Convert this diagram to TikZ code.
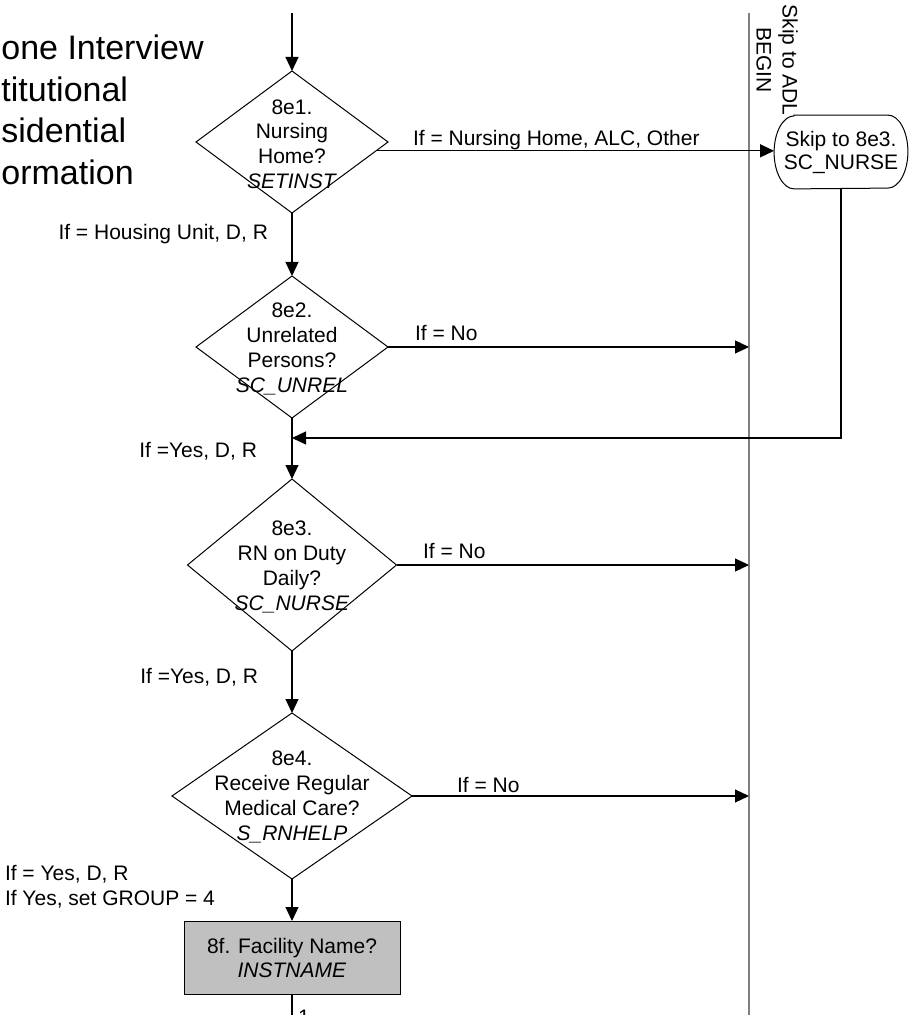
\documentclass[tikz,border=0pt]{standalone}
\usepackage{fontspec}
\setmainfont{Liberation Sans}
\usetikzlibrary{shapes.geometric,arrows.meta,calc}
\definecolor{boxgray}{RGB}{192,192,192}
\definecolor{lanegray}{RGB}{128,128,128}
\begin{document}
\begin{tikzpicture}[x=0.5pt,y=-0.5pt,
  txt/.style={font=\fontsize{10.5}{12.3}\selectfont, inner sep=0pt, outer sep=0pt},
  ttl/.style={font=\fontsize{17}{20}\selectfont, inner sep=0pt, anchor=base west},
  dia/.style={diamond, draw=black, line width=0.5pt, inner sep=0pt, outer sep=0pt},
  conn/.style={draw=black, line width=0.55pt},
  arr/.style={conn, -{Triangle[length=7pt,width=6.5pt]}},
  lane/.style={draw=lanegray, line width=1pt}
]
\useasboundingbox (0,0) rectangle (910,1015);
\clip (0,0) rectangle (910,1015);

% title (cut off at the left edge)
\node[ttl] (t1) at (1,60) {one Interview};
\node[ttl] (t2) at (1,102) {titutional};
\node[ttl] (t3) at (1,143) {sidential};
\node[ttl] (t4) at (1,185) {ormation};

% coordinates
\coordinate (start) at (292,13);
\coordinate (laneTop) at (749,13);
\coordinate (laneBot) at (749,1030);
\coordinate (merge) at (292,438);
\coordinate (finish) at (292,1030);

% lane
\draw[lane] (laneTop) -- (laneBot);
\node[txt, rotate=-90, align=center, font=\fontsize{10.5}{13}\selectfont] (laneLbl) at (777,60) {Skip to ADL\\BEGIN};

% diamonds
\node[dia, minimum width=96pt, minimum height=71pt] (d1) at (292,142) {};
\node[txt, align=center] (d1t) at (292,144) {8e1.\\Nursing\\Home?\\\textit{SETINST}};

\node[dia, minimum width=96pt, minimum height=71pt] (d2) at (292,347) {};
\node[txt, align=center, font=\fontsize{10.5}{12.6}\selectfont] (d2t) at (292,349) {8e2.\\Unrelated\\Persons?\\\textit{SC\_UNREL}};

\node[dia, minimum width=104.5pt, minimum height=86pt] (d3) at (292,565) {};
\node[txt, align=center, font=\fontsize{10.5}{12.6}\selectfont] (d3t) at (292,567) {8e3.\\RN on Duty\\Daily?\\\textit{SC\_NURSE}};

\node[dia, minimum width=120pt, minimum height=83pt] (d4) at (292,796) {};
\node[txt, align=center, font=\fontsize{10.5}{12.6}\selectfont] (d4t) at (292,797) {8e4.\\Receive Regular\\Medical Care?\\\textit{S\_RNHELP}};

% facility box
\node[draw=black, fill=boxgray, line width=0.5pt, minimum width=108pt, minimum height=36.5pt, inner sep=0pt, align=center, font=\fontsize{10.5}{12}\selectfont] (box) at (292,958) {8f. Facility Name?\\\textit{INSTNAME}};

% terminator
\node[minimum width=66.5pt, minimum height=36.5pt, inner sep=0pt, align=center, font=\fontsize{10.5}{11.5}\selectfont] (term) at (841,152) {Skip to 8e3.\\SC\_NURSE};
\draw[line width=0.5pt] ([xshift=10pt]term.north west) -- ([xshift=-10pt]term.north east)
  arc[start angle=90, end angle=-90, x radius=10pt, y radius=18.25pt]
  -- ([xshift=10pt]term.south west)
  arc[start angle=270, end angle=90, x radius=10pt, y radius=18.25pt] -- cycle;

% connectors
\draw[arr] (start) -- (d1.north);
\draw[arr] (d1.-6.7) -- (d1.-6.7 -| term.west);
\draw[arr] (d1.south) -- (d2.north);
\draw[arr] (d2.east) -- (d2.east -| laneTop);
\draw[arr] (term.south) |- (merge);
\draw[arr] (d2.south) -- (d3.north);
\draw[arr] (d3.east) -- (d3.east -| laneTop);
\draw[arr] (d3.south) -- (d4.north);
\draw[arr] (d4.east) -- (d4.east -| laneTop);
\draw[arr] (d4.south) -- (box.north);
\draw[conn] (box.south) -- (finish);

% connector labels
\node[txt, anchor=base west] (l1) at (413,146) {If = Nursing Home, ALC, Other};
\node[txt, anchor=base east] (l2) at (268,240) {If = Housing Unit, D, R};
\node[txt, anchor=base west] (l3) at (415,341) {If = No};
\node[txt, anchor=base east] (l4) at (257,457) {If =Yes, D, R};
\node[txt, anchor=base west] (l5) at (423,558) {If = No};
\node[txt, anchor=base east] (l6) at (258,683) {If =Yes, D, R};
\node[txt, anchor=base west] (l7) at (457,792) {If = No};
\node[txt, anchor=base west] (l8a) at (5,880) {If = Yes, D, R};
\node[txt, anchor=base west] (l8b) at (5,905) {If Yes, set GROUP = 4};
\node[txt, anchor=north] (l9) at (304,1010) {1};
\end{tikzpicture}
\end{document}
